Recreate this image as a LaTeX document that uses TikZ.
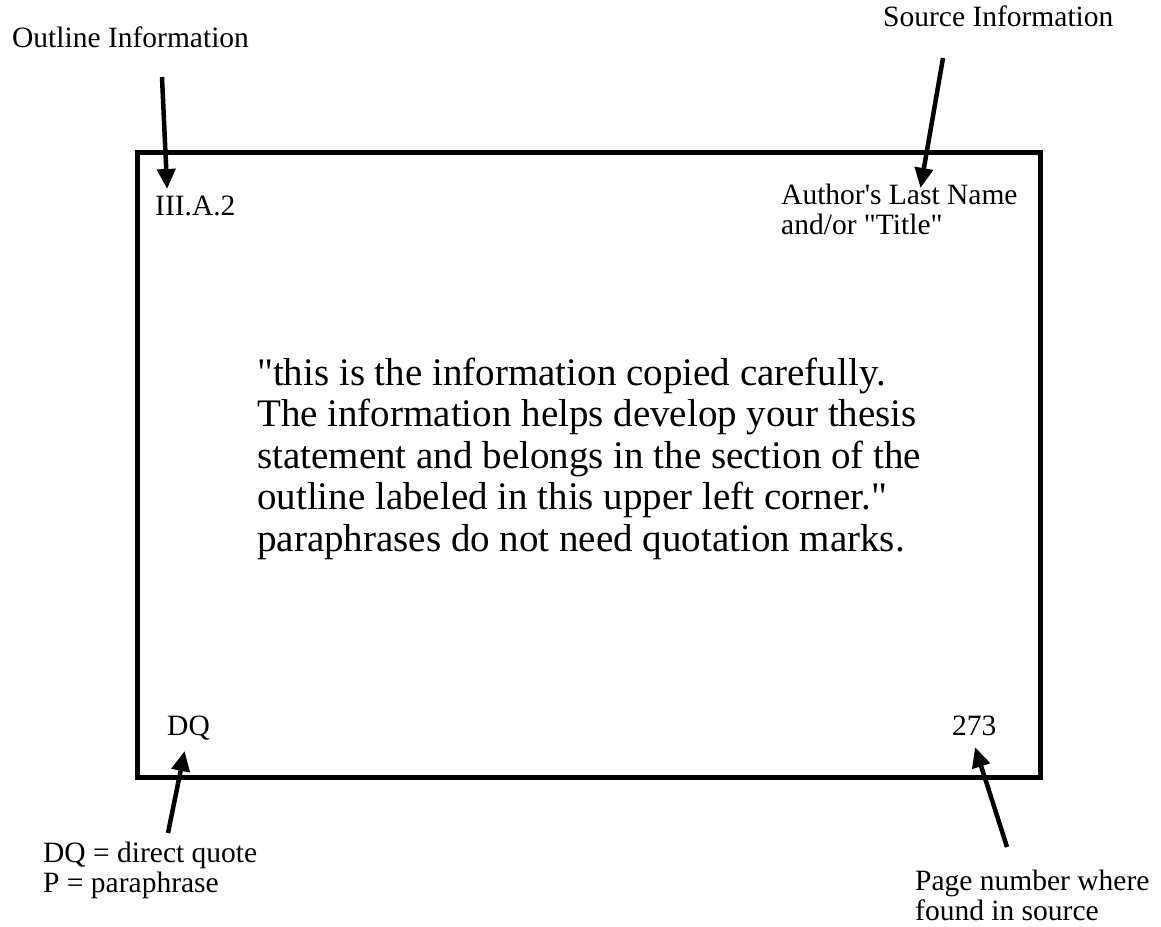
\documentclass[tikz,border=0pt]{standalone}
\usepackage{fontspec}
\newfontfamily\tnr{Liberation Serif}
\usetikzlibrary{arrows.meta}
\begin{document}
\begin{tikzpicture}[x=1pt,y=-1pt,
  small/.style={inner sep=0pt,align=left,font=\tnr\fontsize{29.5}{30}\selectfont},
  big/.style={inner sep=0pt,align=left,font=\tnr\fontsize{39}{41.5}\selectfont},
  pointer/.style={line width=4.5pt,-{Triangle[length=20pt,width=18pt]},shorten >=-3pt}]
\useasboundingbox (0,0) rectangle (1161,926);
\fill[white] (0,0) rectangle (1161,926);
\draw[line width=5pt] (137,152) rectangle (1040,777);
\node[small,anchor=base west] (outline) at (12,47) {Outline Information};
\node[small,anchor=base west] (source) at (883,27) {Source Information};
\node[small,anchor=base west] (code) at (155,215) {III.A.2};
% base anchor of a multi-line node = baseline of its last line
\node[small,anchor=base west] (author) at (781,234) {Author's Last Name\\and/or "Title"};
\node[big,anchor=base west] (body) at (257,551) {"this is the information copied carefully.\\The information helps develop your thesis\\statement and belongs in the section of the\\outline labeled in this upper left corner."\\paraphrases do not need quotation marks.};
\node[small,anchor=base west] (dq) at (167,735) {DQ};
\node[small,anchor=base west] (page) at (952,735) {273};
\node[small,anchor=base west] (legend) at (43,892) {DQ = direct quote\\P = paraphrase};
\node[small,anchor=base west] (pagenote) at (915,920) {Page number where\\found in source};
\coordinate (a1s) at (162,77);
\coordinate (a1e) at (167,186);
\coordinate (a2s) at (943,58);
\coordinate (a2e) at (921,185);
\coordinate (a3s) at (168,833);
\coordinate (a3e) at (184,754);
\coordinate (a4s) at (1007,847);
\coordinate (a4e) at (976,750);
\draw[pointer] (a1s) -- (a1e);
\draw[pointer] (a2s) -- (a2e);
\draw[pointer] (a3s) -- (a3e);
\draw[pointer] (a4s) -- (a4e);
\end{tikzpicture}
\end{document}
